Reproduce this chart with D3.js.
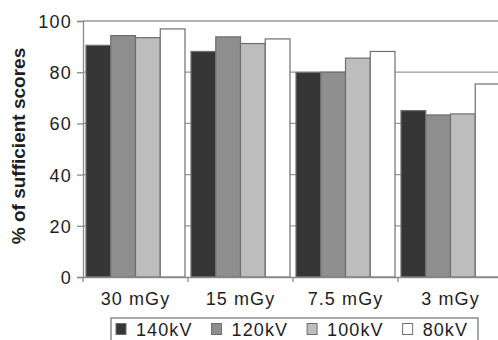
<!DOCTYPE html>
<html>
<head>
<meta charset="utf-8">
<script src="https://cdn.jsdelivr.net/npm/d3@7"></script>
<style>
  body { margin: 0; background: #fff; }
  svg { display: block; }
  text { font-family: "Liberation Sans", Arial, sans-serif; fill: #1e1e1e; }
</style>
</head>
<body>
<div id="container"></div>
<script>
// doses on the x axis, tube voltages as the series
const doses = ["30 mGy", "15 mGy", "7.5 mGy", "3 mGy"]
const voltages = ["140kV", "120kV", "100kV", "80kV"]

// % of sufficient scores, one array per voltage
const kv140 = [90.5, 88.1, 79.9, 65.0]
const kv120 = [94.3, 93.8, 80.0, 63.3]
const kv100 = [93.5, 91.2, 85.5, 63.7]
const kv80 = [96.9, 93.0, 88.1, 75.4]

const yTicks = [0, 20, 40, 60, 80, 100]

const seriesValues = [kv140, kv120, kv100, kv80]
const fills = ["#363636", "#8e8e8e", "#bdbdbd", "#ffffff"]

const width = 498,
  height = 340,
  margin = { top: 21, bottom: 62, left: 83, right: -5 }

// rows for the grouped bars
const data = doses.map((dose, i) => ({
  dose: dose,
  values: voltages.map((kv, j) => ({ kv: kv, value: seriesValues[j][i] }))
}))

const svg = d3.select("#container")
  .append("svg")
  .attr("width", width)
  .attr("height", height)

// scales
const xScale = d3.scaleBand()
  .domain(doses)
  .range([margin.left, width - margin.right])
  .padding(0)

const xInner = d3.scaleBand()
  .domain(voltages)
  .range([3, xScale.bandwidth() - 3])
  .padding(0)

const yScale = d3.scaleLinear()
  .domain([0, 100])
  .range([height - margin.bottom - 1, margin.top])

// gridlines behind the bars
svg.append("g")
  .attr("class", "grid")
  .selectAll("line")
  .data(yTicks.slice(1))
  .join("line")
  .attr("x1", margin.left)
  .attr("x2", width - margin.right)
  .attr("y1", d => yScale(d))
  .attr("y2", d => yScale(d))
  .attr("stroke", "#9a9a9a")
  .attr("stroke-width", 1.3)

// bars
const groups = svg.selectAll(".group")
  .data(data)
  .join("g")
  .attr("class", "group")
  .attr("transform", d => `translate(${xScale(d.dose)}, 0)`)

groups.selectAll("rect")
  .data(d => d.values)
  .join("rect")
  .attr("x", d => xInner(d.kv))
  .attr("width", xInner.bandwidth())
  .attr("y", d => yScale(d.value))
  .attr("height", d => yScale(0) - yScale(d.value))
  .attr("fill", (d, i) => fills[i])
  .attr("stroke", "#6e6e6e")
  .attr("stroke-width", 1.2)

// axes
const yAxis = d3.axisLeft(yScale)
  .tickValues(yTicks)
  .tickSize(6)
  .tickPadding(5)

const yAxisGroup = svg.append("g")
  .attr("class", "yAxis")
  .attr("transform", `translate(${margin.left}, 0)`)
  .call(yAxis)

yAxisGroup.select(".domain").attr("stroke", "#8a8a8a").attr("stroke-width", 1.3)
yAxisGroup.selectAll(".tick line").attr("stroke", "#8a8a8a").attr("stroke-width", 1.3)
yAxisGroup.selectAll(".tick text")
  .attr("font-family", null)
  .style("font-size", "18px")
  .style("letter-spacing", "1.2px")
  .attr("dy", "0.36em")

const xAxis = d3.axisBottom(xScale)
  .tickSize(0)
  .tickPadding(15)

const xAxisGroup = svg.append("g")
  .attr("class", "xAxis")
  .attr("transform", `translate(0, ${yScale(0)})`)
  .call(xAxis)

xAxisGroup.select(".domain").attr("stroke", "#8a8a8a").attr("stroke-width", 1.3)
xAxisGroup.selectAll(".tick text")
  .attr("font-family", null)
  .style("font-size", "18px")
  .style("letter-spacing", "1.1px")

// small ticks between the categories
xAxisGroup.selectAll(".sep")
  .data(doses)
  .join("line")
  .attr("class", "sep")
  .attr("x1", d => xScale(d))
  .attr("x2", d => xScale(d))
  .attr("y1", 0)
  .attr("y2", 5)
  .attr("stroke", "#8a8a8a")
  .attr("stroke-width", 1.3)

// y title
svg.append("text")
  .attr("class", "yLabel")
  .attr("transform", `translate(25, ${(yScale(0) + yScale(100)) / 2 - 3}) rotate(-90)`)
  .attr("text-anchor", "middle")
  .style("font-size", "19px")
  .style("font-weight", "bold")
  .text("% of sufficient scores")

// legend
const legend = svg.append("g").attr("class", "legend")

legend.append("rect")
  .attr("x", 111)
  .attr("y", 318)
  .attr("width", 367)
  .attr("height", 40)
  .attr("fill", "#fff")
  .attr("stroke", "#8a8a8a")
  .attr("stroke-width", 1.5)

let lx = 116
voltages.forEach((kv, i) => {
  legend.append("rect")
    .attr("x", lx)
    .attr("y", 323.5)
    .attr("width", 10)
    .attr("height", 11)
    .attr("fill", fills[i])
    .attr("stroke", "#6e6e6e")
    .attr("stroke-width", 1)
  const t = legend.append("text")
    .attr("x", lx + 20)
    .attr("y", 335.5)
    .style("font-size", "18px")
    .style("letter-spacing", "1.1px")
    .text(kv)
  lx += 20 + t.node().getComputedTextLength() + 19
})
</script>
</body>
</html>
